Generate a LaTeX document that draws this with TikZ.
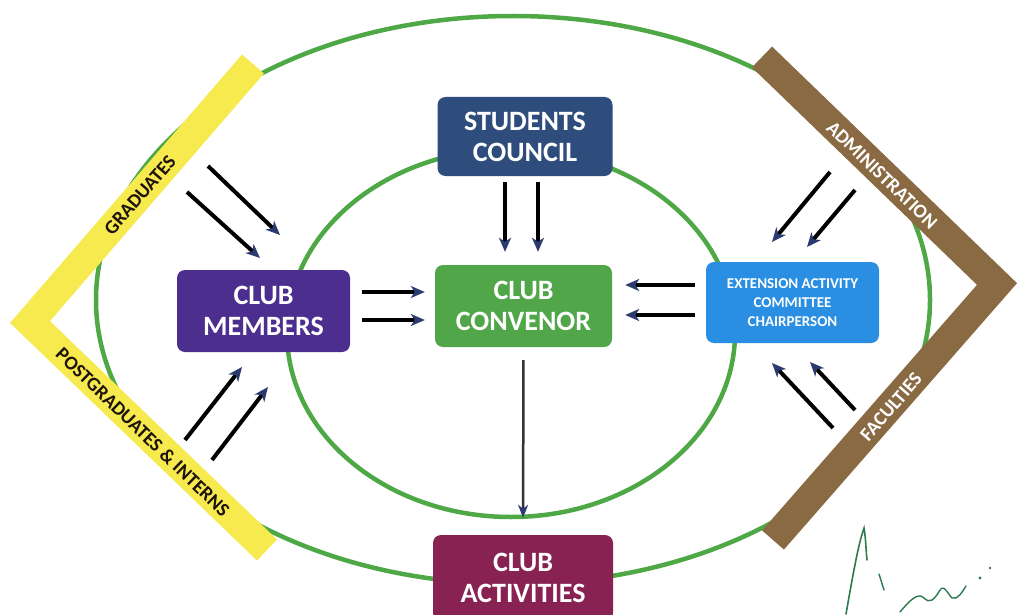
\documentclass[tikz,border=0pt]{standalone}
\usepackage{fontspec}
\setmainfont{Carlito}
\usetikzlibrary{arrows.meta}
\definecolor{ringgreen}{HTML}{4DA845}
\definecolor{councilblue}{HTML}{2E4C7C}
\definecolor{convgreen}{HTML}{52A64A}
\definecolor{memberpurple}{HTML}{4B2E8E}
\definecolor{extblue}{HTML}{2A8FE2}
\definecolor{actmaroon}{HTML}{872252}
\definecolor{baryellow}{HTML}{F6EA4E}
\definecolor{barbrown}{HTML}{8A6A42}
\definecolor{tipblue}{HTML}{2B3B70}
\definecolor{signgreen}{HTML}{2F7A4E}
\begin{document}
\begin{tikzpicture}[x=1pt,y=-1pt,
  box/.style={rounded corners=8pt, text=white, align=center, inner sep=0pt,
    font=\fontsize{28}{31}\selectfont\bfseries},
  ring/.style={draw=ringgreen, line width=4.5pt},
  bar/.style={line width=29pt, line cap=butt, line join=miter},
  barlabel/.style={font=\fontsize{19.5}{19.5}\selectfont\bfseries, inner sep=0pt},
  flow/.style={line width=4pt, black, -{Stealth[length=14pt,width=12pt,inset=4pt,color=tipblue]}},
  thinflow/.style={line width=2.5pt, black!80, -{Stealth[length=13pt,width=10pt,inset=4pt,color=tipblue]}}
]
\useasboundingbox (0,0) rectangle (1019,615);
\fill[white] (0,0) rectangle (1019,615);

% ellipses
\draw[ring] (513,300) ellipse [x radius=417, y radius=284];
\draw[ring] (511,333) ellipse [x radius=224, y radius=184];

% bars
\draw[bar, baryellow] (253,64) -- (30,322) -- (267,550);
\draw[bar, barbrown] (762,57) -- (997,284) -- (773,540);

% bar labels
\node[barlabel, text=black!85!brown, rotate=49] (grad) at (140,195) {GRADUATES};
\node[barlabel, text=black!85!brown, rotate=-44] (post) at (143,432) {POSTGRADUATES \& INTERNS};
\node[barlabel, text=white, rotate=-44] (admin) at (882,175) {ADMINISTRATION};
\node[barlabel, text=white, rotate=49] (fac) at (891,407) {FACULTIES};

% boxes
\node[box, fill=councilblue, minimum width=175pt, minimum height=79pt] (council) at (525,136.5) {STUDENTS\\COUNCIL};
\node[box, fill=convgreen, minimum width=177pt, minimum height=82pt] (convenor) at (523.5,306) {CLUB\\CONVENOR};
\node[box, fill=memberpurple, minimum width=173pt, minimum height=82pt] (members) at (263.5,311) {CLUB\\MEMBERS};
\node[box, fill=extblue, minimum width=173pt, minimum height=81pt,
  font=\fontsize{15}{19}\selectfont\bfseries] (ext) at (792.5,302.5) {EXTENSION ACTIVITY\\COMMITTEE\\CHAIRPERSON};
\node[box, fill=actmaroon, minimum width=180pt, minimum height=86pt] (act) at (523,578) {CLUB\\ACTIVITIES};

% coordinates for arrows from the bars
\coordinate (g1s) at (187,192); \coordinate (g1e) at (260,258);
\coordinate (g2s) at (208,166); \coordinate (g2e) at (280,235);
\coordinate (p1s) at (185,440); \coordinate (p1e) at (242,367);
\coordinate (p2s) at (212,460); \coordinate (p2e) at (268,387);
\coordinate (a1s) at (830,172); \coordinate (a1e) at (772,242);
\coordinate (a2s) at (855,190); \coordinate (a2e) at (807,247);
\coordinate (f1s) at (833,428); \coordinate (f1e) at (772,363);
\coordinate (f2s) at (855,410); \coordinate (f2e) at (810,362);

\draw[flow] (g1s) -- (g1e);
\draw[flow] (g2s) -- (g2e);
\draw[flow] (p1s) -- (p1e);
\draw[flow] (p2s) -- (p2e);
\draw[flow] (a1s) -- (a1e);
\draw[flow] (a2s) -- (a2e);
\draw[flow] (f1s) -- (f1e);
\draw[flow] (f2s) -- (f2e);

% council -> convenor
\draw[flow, shorten <=6pt, shorten >=13pt] ([xshift=-20pt]council.south) -- ([xshift=-18.5pt]convenor.north);
\draw[flow, shorten <=6pt, shorten >=13pt] ([xshift=13pt]council.south) -- ([xshift=14.5pt]convenor.north);
% members -> convenor
\draw[flow, shorten <=12pt, shorten >=10pt] ([yshift=19pt]members.east) -- ([yshift=14pt]convenor.west);
\draw[flow, shorten <=12pt, shorten >=10pt] ([yshift=-9pt]members.east) -- ([yshift=-14pt]convenor.west);
% extension -> convenor
\draw[flow, shorten <=11pt, shorten >=13pt] ([yshift=17.5pt]ext.west) -- ([yshift=21pt]convenor.east);
\draw[flow, shorten <=11pt, shorten >=13pt] ([yshift=-12.5pt]ext.west) -- ([yshift=-9pt]convenor.east);
% convenor -> activities
\draw[thinflow, shorten <=13pt, shorten >=17pt] (convenor.south) -- (act.north);

% signature
\draw[signgreen, line width=1.6pt, line cap=round]
  (846,614) .. controls (852,580) and (858,545) .. (864,528)
  .. controls (866,540) and (866,552) .. (867,560);
\draw[signgreen, line width=1.4pt, line cap=round] (879,574) -- (884,590);
\draw[signgreen, line width=1.4pt, line cap=round]
  (900,612) .. controls (910,600) and (918,592) .. (924,598)
  .. controls (930,604) and (934,600) .. (940,590)
  .. controls (944,584) and (948,594) .. (952,598)
  .. controls (958,600) and (962,592) .. (966,586);
\fill[signgreen] (980,578) circle (1.6);
\fill[signgreen] (990,568) circle (1.4);
\end{tikzpicture}
\end{document}
